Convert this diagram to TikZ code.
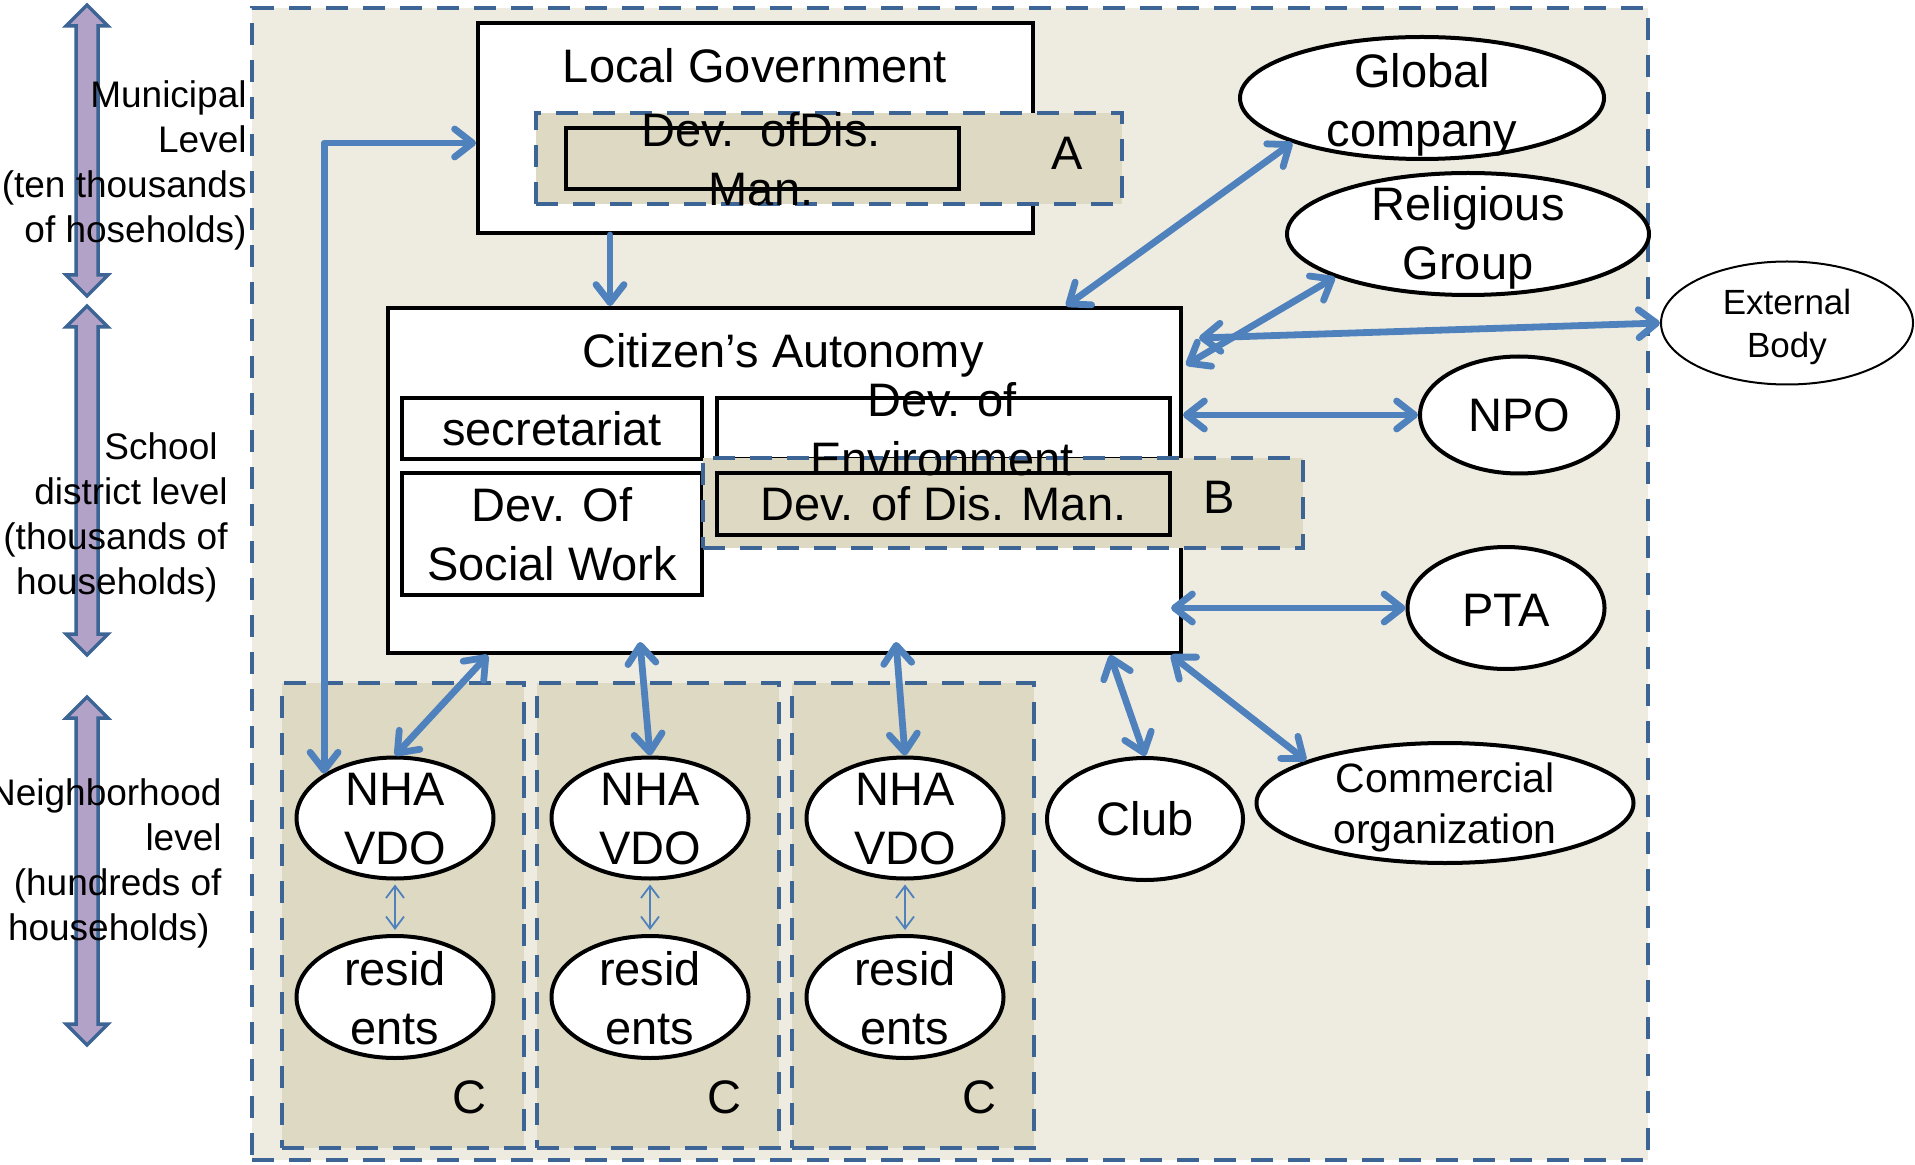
\documentclass[tikz,border=0pt]{standalone}
\usepackage{fontspec}
\setmainfont{Liberation Sans}
\usetikzlibrary{shapes.geometric,arrows.meta,calc}
\definecolor{bgbeige}{HTML}{EEECE1}
\definecolor{zonebeige}{HTML}{DDD9C3}
\definecolor{dashblue}{HTML}{3C6494}
\definecolor{linkblue}{HTML}{4F81BD}
\definecolor{lvlfill}{HTML}{B3A2C7}
\definecolor{lvledge}{HTML}{3C6494}
\tikzset{
  big/.style={font=\fontsize{23.5pt}{29.5pt}\selectfont},
  txt/.style={big, align=center, inner sep=0pt},
  sidetxt/.style={font=\fontsize{18.5pt}{22.5pt}\selectfont, align=right, inner sep=0pt, anchor=east},
  box/.style={rectangle, draw=black, line width=2pt, fill=white, inner sep=0pt},
  framebox/.style={rectangle, draw=black, line width=2pt, inner sep=0pt},
  zone/.style={rectangle, draw=dashblue, line width=2pt, dash pattern=on 11pt off 7.5pt, fill=zonebeige, inner sep=0pt},
  oval/.style={ellipse, draw=black, line width=2pt, fill=white, inner sep=0pt},
  lhead/.tip={Straight Barb[length=9pt,width=14pt,round]},
  mhead/.tip={Straight Barb[length=6pt,width=9pt]},
  link/.style={draw=linkblue, line width=3.4pt, line cap=round, line join=round, arrows={lhead-lhead}},
  onelink/.style={draw=linkblue, line width=3.4pt, line cap=round, line join=round, arrows={-lhead}},
  minilink/.style={draw=linkblue, line width=0.9pt, arrows={mhead-mhead}, shorten <=2pt, shorten >=2pt},
  lvlarrow/.style={fill=lvlfill, draw=lvledge, line width=1.75pt, line join=miter}
}
\newcommand{\levelarrow}[2]{%
  \draw[lvlarrow] (87,#1) -- (108,{#1+21}) -- (98,{#1+21}) -- (98,{#2-21}) -- (108,{#2-21}) -- (87,#2)
    -- (66,{#2-21}) -- (76,{#2-21}) -- (76,{#1+21}) -- (66,{#1+21}) -- cycle;}
\begin{document}
\begin{tikzpicture}[x=0.5pt,y=-0.5pt]
\useasboundingbox (0,0) rectangle (1915,1165);
% outer frame
\node[zone, fill=bgbeige, minimum width=698pt, minimum height=576pt] (outer) at (950,584) {};
% level arrows and texts
\levelarrow{5}{296}
\levelarrow{306}{655}
\levelarrow{697}{1045}
\node[sidetxt] (lvl1) at (247,165.5) {Municipal\\Level\\(ten thousands\\of hoseholds)};
\node[sidetxt] (lvl2) at (228,517.5) {School\hspace*{5pt}\\district level\\(thousands of\\households)\hspace*{5pt}};
\node[sidetxt] (lvl3) at (222,863) {Neighborhood\\level\\(hundreds of\\households)\hspace*{6pt}};
% local government
\node[box, minimum width=277.5pt, minimum height=105pt] (lg) at (755.5,128) {};
\node[txt] (lgt) at (755,65.5) {Local Government};
\node[zone, minimum width=293pt, minimum height=45.5pt] (zoneA) at (829,158.5) {};
\node[framebox, minimum width=196.5pt, minimum height=30.5pt] (devA) at (762.5,158.5) {};
\node[txt] (devAt) at (761,159) {Dev.\ \ ofDis.\\Man.};
\node[txt] (labA) at (1067,153) {A};
% citizen's autonomy
\node[box, minimum width=396.5pt, minimum height=172.5pt] (ca) at (784.5,480.5) {};
\node[txt] (cat) at (783,355) {Citizen’s Autonomy};
\node[box, big, minimum width=150pt, minimum height=30.5pt] (secr) at (552,428.5) {secretariat};
\node[box, minimum width=226.5pt, minimum height=30.5pt] (env) at (943.5,428.5) {};
\node[box, big, align=center, minimum width=150pt, minimum height=61pt] (social) at (552,534) {Dev. Of\\Social Work};
\node[zone, minimum width=300pt, minimum height=45pt] (zoneB) at (1003,503) {};
\node[txt] (envt) at (942,429) {Dev. of\\Environment};
\node[framebox, big, minimum width=226.5pt, minimum height=31pt] (devB) at (943.5,504) {Dev. of Dis. Man.};
\node[txt] (labB) at (1219,497) {B};
% neighborhood zones
\foreach \i/\x in {1/395,2/650,3/905}{
  \node[zone, minimum width=121pt, minimum height=232.5pt] (zc\i) at (\x+7.5,915.5) {};
  \node[txt] (labC\i) at (\x+74,1097) {C};
  \node[oval, minimum width=98.5pt, minimum height=60.5pt, label={[txt,yshift=-0.5pt]center:{NHA\\VDO}}] (nha\i) at (\x,818) {};
  \node[oval, minimum width=98.5pt, minimum height=61pt, label={[txt,yshift=-0.5pt]center:{resid\\ents}}] (res\i) at (\x,997) {};
  \draw[minilink] (nha\i.south) -- (res\i.north);
}
% right ellipses
\node[oval, minimum width=182pt, minimum height=61pt, label={[txt,yshift=-3.3pt]center:{Global\\company}}] (glob) at (1422,98) {};
\node[oval, minimum width=181pt, minimum height=61pt, label={[txt,yshift=-2pt]center:{Religious\\Group}}] (relig) at (1468,234) {};
\node[oval, line width=1pt, minimum width=126pt, minimum height=61.5pt, label={[txt,font=\fontsize{17.5pt}{21.5pt}\selectfont,yshift=-2pt]center:{External\\Body}}] (ext) at (1787,323) {};
\node[oval, minimum width=99pt, minimum height=58.5pt, label={[txt]center:{NPO}}] (npo) at (1519,415) {};
\node[oval, minimum width=98.5pt, minimum height=61pt, label={[txt,yshift=-1pt]center:{PTA}}] (pta) at (1506,608) {};
\node[oval, minimum width=98pt, minimum height=61pt, label={[txt]center:{Club}}] (club) at (1145,819) {};
\node[oval, minimum width=188.5pt, minimum height=60pt, label={[txt,font=\fontsize{20.5pt}{25.5pt}\selectfont,yshift=-2pt]center:{Commercial\\organization}}] (comm) at (1445,803) {};
% connectors
\draw[link] (nha1.148) |- ($(lg.west)+(0,15)$);
\draw[onelink] ($(lg.south west)+(134,0)$) -- ($(ca.north west)+(224,0)$);
\draw[link] ($(ca.north east)+(-117,0)$) -- (glob.199);
\draw[link] ($(ca.north east)+(3,59)$) -- (relig.198);
\draw[link] ($(ca.north east)+(16,32)$) -- (ext.west);
\draw[link] (ca.east |- npo.west) -- (npo.west);
\draw[link] ($(ca.east |- pta.west)+(-12,0)$) -- (pta.west);
\draw[link] ($(ca.south east)+(-73,0)$) -- (club.north);
\draw[link] ($(ca.south east)+(-12,0)$) -- (comm.163);
\draw[link] ($(ca.south west)+(102,0)$) -- (nha1.north);
\draw[link] ($(ca.south west)+(254,-13)$) -- (nha2.north);
\draw[link] ($(ca.south west)+(510,-13)$) -- (nha3.north);
\end{tikzpicture}
\end{document}
